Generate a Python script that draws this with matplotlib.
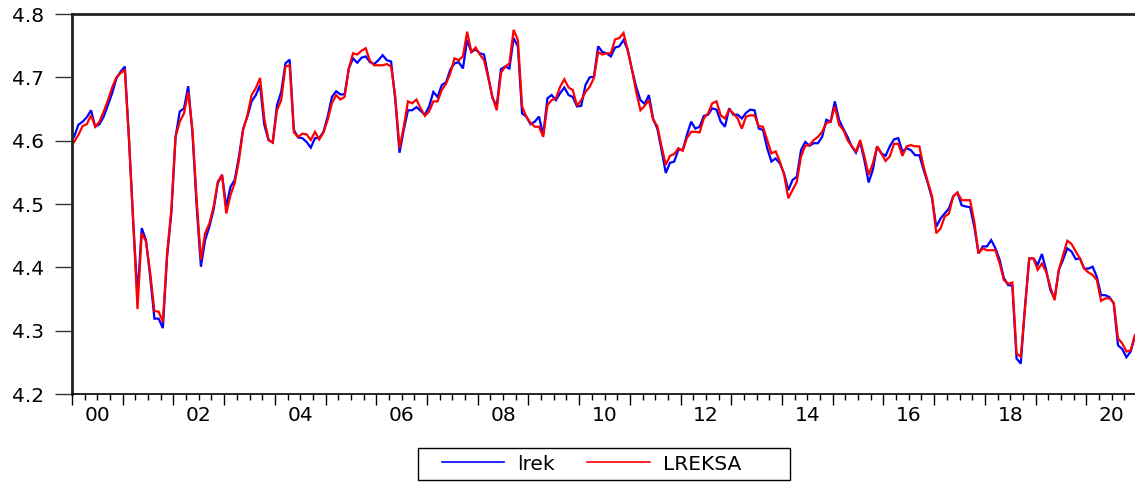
import matplotlib
matplotlib.use("Agg")
import matplotlib.pyplot as plt
import numpy as np
from matplotlib.patches import Rectangle
from matplotlib.ticker import MultipleLocator, FixedLocator, NullFormatter

# Monthly observations, 2000M01 - 2020M12
start_year = 2000
lrek = [
    4.606, 4.625, 4.630, 4.637, 4.648, 4.622, 4.626, 4.638, 4.656, 4.675, 4.698, 4.709,
    4.717, 4.600, 4.470, 4.355, 4.462, 4.443, 4.385, 4.319, 4.319, 4.304, 4.417, 4.485,
    4.606, 4.646, 4.651, 4.686, 4.612, 4.496, 4.401, 4.443, 4.464, 4.491, 4.533, 4.546,
    4.496, 4.527, 4.538, 4.575, 4.619, 4.638, 4.662, 4.672, 4.688, 4.625, 4.601, 4.597,
    4.656, 4.677, 4.722, 4.728, 4.617, 4.605, 4.604, 4.598, 4.589, 4.604, 4.604, 4.614,
    4.638, 4.669, 4.678, 4.673, 4.673, 4.714, 4.730, 4.723, 4.731, 4.733, 4.724, 4.721,
    4.727, 4.735, 4.727, 4.725, 4.664, 4.581, 4.617, 4.648, 4.648, 4.653, 4.647, 4.641,
    4.654, 4.677, 4.669, 4.688, 4.692, 4.712, 4.722, 4.724, 4.714, 4.759, 4.740, 4.744,
    4.738, 4.736, 4.701, 4.667, 4.655, 4.713, 4.717, 4.714, 4.762, 4.749, 4.643, 4.638,
    4.626, 4.630, 4.638, 4.609, 4.667, 4.672, 4.664, 4.675, 4.684, 4.672, 4.669, 4.654,
    4.655, 4.688, 4.700, 4.701, 4.749, 4.740, 4.738, 4.733, 4.747, 4.749, 4.759, 4.743,
    4.712, 4.685, 4.664, 4.658, 4.672, 4.635, 4.619, 4.585, 4.549, 4.565, 4.567, 4.586,
    4.585, 4.609, 4.630, 4.619, 4.622, 4.639, 4.641, 4.651, 4.649, 4.630, 4.622, 4.651,
    4.641, 4.641, 4.635, 4.644, 4.649, 4.648, 4.619, 4.617, 4.588, 4.567, 4.572, 4.564,
    4.548, 4.522, 4.538, 4.543, 4.585, 4.598, 4.592, 4.596, 4.596, 4.606, 4.633, 4.630,
    4.662, 4.633, 4.619, 4.606, 4.591, 4.581, 4.598, 4.569, 4.534, 4.554, 4.591, 4.580,
    4.576, 4.591, 4.602, 4.604, 4.583, 4.588, 4.585, 4.577, 4.577, 4.554, 4.533, 4.509,
    4.464, 4.477, 4.485, 4.493, 4.512, 4.518, 4.498, 4.496, 4.495, 4.464, 4.422, 4.433,
    4.433, 4.443, 4.430, 4.412, 4.383, 4.372, 4.371, 4.256, 4.248, 4.338, 4.414, 4.414,
    4.404, 4.421, 4.396, 4.364, 4.351, 4.396, 4.412, 4.430, 4.425, 4.413, 4.414, 4.398,
    4.398, 4.401, 4.385, 4.356, 4.356, 4.353, 4.343, 4.277, 4.271, 4.258, 4.267, 4.291,
]
lreksa = [
    4.598, 4.609, 4.623, 4.626, 4.640, 4.622, 4.630, 4.646, 4.664, 4.684, 4.700, 4.707,
    4.711, 4.600, 4.470, 4.334, 4.454, 4.441, 4.391, 4.331, 4.330, 4.314, 4.422, 4.491,
    4.606, 4.630, 4.643, 4.677, 4.617, 4.506, 4.412, 4.454, 4.469, 4.496, 4.535, 4.546,
    4.485, 4.514, 4.533, 4.569, 4.617, 4.640, 4.672, 4.683, 4.699, 4.635, 4.601, 4.597,
    4.648, 4.664, 4.717, 4.719, 4.613, 4.606, 4.611, 4.610, 4.601, 4.614, 4.602, 4.613,
    4.633, 4.659, 4.672, 4.665, 4.669, 4.714, 4.738, 4.736, 4.742, 4.746, 4.726, 4.719,
    4.719, 4.719, 4.721, 4.717, 4.669, 4.588, 4.622, 4.662, 4.659, 4.665, 4.651, 4.639,
    4.646, 4.662, 4.662, 4.680, 4.690, 4.706, 4.730, 4.727, 4.733, 4.772, 4.740, 4.747,
    4.736, 4.727, 4.699, 4.669, 4.648, 4.707, 4.717, 4.722, 4.775, 4.759, 4.654, 4.638,
    4.628, 4.622, 4.622, 4.606, 4.656, 4.664, 4.667, 4.685, 4.697, 4.684, 4.680, 4.655,
    4.664, 4.677, 4.685, 4.699, 4.740, 4.736, 4.738, 4.738, 4.760, 4.762, 4.770, 4.743,
    4.712, 4.677, 4.648, 4.655, 4.664, 4.633, 4.623, 4.591, 4.562, 4.576, 4.579, 4.588,
    4.584, 4.604, 4.614, 4.614, 4.613, 4.635, 4.643, 4.659, 4.662, 4.640, 4.635, 4.649,
    4.643, 4.635, 4.619, 4.638, 4.640, 4.640, 4.623, 4.622, 4.601, 4.580, 4.583, 4.567,
    4.546, 4.509, 4.522, 4.535, 4.575, 4.592, 4.593, 4.601, 4.606, 4.614, 4.628, 4.630,
    4.654, 4.625, 4.617, 4.601, 4.591, 4.583, 4.601, 4.575, 4.546, 4.564, 4.591, 4.580,
    4.568, 4.575, 4.595, 4.595, 4.576, 4.591, 4.593, 4.591, 4.591, 4.559, 4.535, 4.512,
    4.454, 4.461, 4.480, 4.485, 4.512, 4.518, 4.506, 4.506, 4.506, 4.472, 4.422, 4.430,
    4.427, 4.427, 4.427, 4.406, 4.380, 4.374, 4.376, 4.264, 4.259, 4.335, 4.414, 4.414,
    4.396, 4.406, 4.393, 4.369, 4.348, 4.396, 4.419, 4.442, 4.437, 4.425, 4.414, 4.398,
    4.392, 4.388, 4.380, 4.347, 4.351, 4.351, 4.344, 4.288, 4.280, 4.267, 4.269, 4.293,
]
year_labels = ["00", "02", "04", "06", "08", "10", "12", "14", "16", "18", "20"]
y_ticks = [4.2, 4.3, 4.4, 4.5, 4.6, 4.7, 4.8]

plt.rcParams["font.family"] = ["DejaVu Sans"]
FS = 14.5

W, H = 1135, 484
fig = plt.figure(figsize=(W / 100, H / 100), dpi=100)
# axes box in pixels: left 72, right 1137 (just past the canvas), top 14, bottom 394
ax = fig.add_axes([72 / W, 1 - 394 / H, (1137 - 72) / W, (394 - 14) / H])

t = start_year + (np.arange(len(lrek)) + 0.5) / 12.0
ax.plot(t, lrek, color="#0000ff", lw=1.6, label="lrek", solid_joinstyle="miter")
ax.plot(t, lreksa, color="#ff0000", lw=1.6, label="LREKSA", solid_joinstyle="miter")

ax.set_xlim(start_year, start_year + 21)
ax.set_ylim(4.2, 4.8)

# y axis
ax.set_yticks(y_ticks)
ax.set_yticklabels([f"{v:.1f}" for v in y_ticks], fontsize=FS)
ax.tick_params(axis="y", direction="out", length=12, width=1.0, pad=8,
               color="#333333")

# x axis: yearly major, quarterly minor ticks, labels at mid-year
ax.xaxis.set_major_locator(MultipleLocator(1))
ax.xaxis.set_minor_locator(MultipleLocator(0.25))
ax.xaxis.set_major_formatter(NullFormatter())
ax.tick_params(axis="x", which="major", direction="out", length=8, width=1.0)
ax.tick_params(axis="x", which="minor", direction="out", length=4, width=1.0)

sec = ax.secondary_xaxis("bottom")
label_pos = [start_year + 2 * k + 0.5 for k in range(len(year_labels))]
sec.xaxis.set_major_locator(FixedLocator(label_pos))
sec.set_xticklabels(year_labels, fontsize=FS)
sec.tick_params(axis="x", length=0, pad=9)
sec.spines["bottom"].set_visible(False)

for side in ("left", "top"):
    ax.spines[side].set_linewidth(2.0)
    ax.spines[side].set_color("#222222")
ax.spines["bottom"].set_linewidth(1.2)
ax.spines["bottom"].set_color("black")
ax.spines["right"].set_linewidth(1.2)

# legend entries below the plot, inside a plain rectangular frame
leg = fig.legend(loc="center left", bbox_to_anchor=(442 / W, 1 - 464 / H),
                 bbox_transform=fig.transFigure, ncol=2, fontsize=FS,
                 frameon=False, handlelength=3.1, handletextpad=0.65,
                 columnspacing=1.6, borderpad=0, borderaxespad=0)
for line in leg.get_lines():
    line.set_linewidth(1.2)
fig.patches.append(Rectangle((418 / W, 1 - 480 / H), 372 / W, 32 / H,
                             transform=fig.transFigure, fill=False,
                             edgecolor="black", linewidth=1.0))

fig.savefig("out.png", dpi=100)
